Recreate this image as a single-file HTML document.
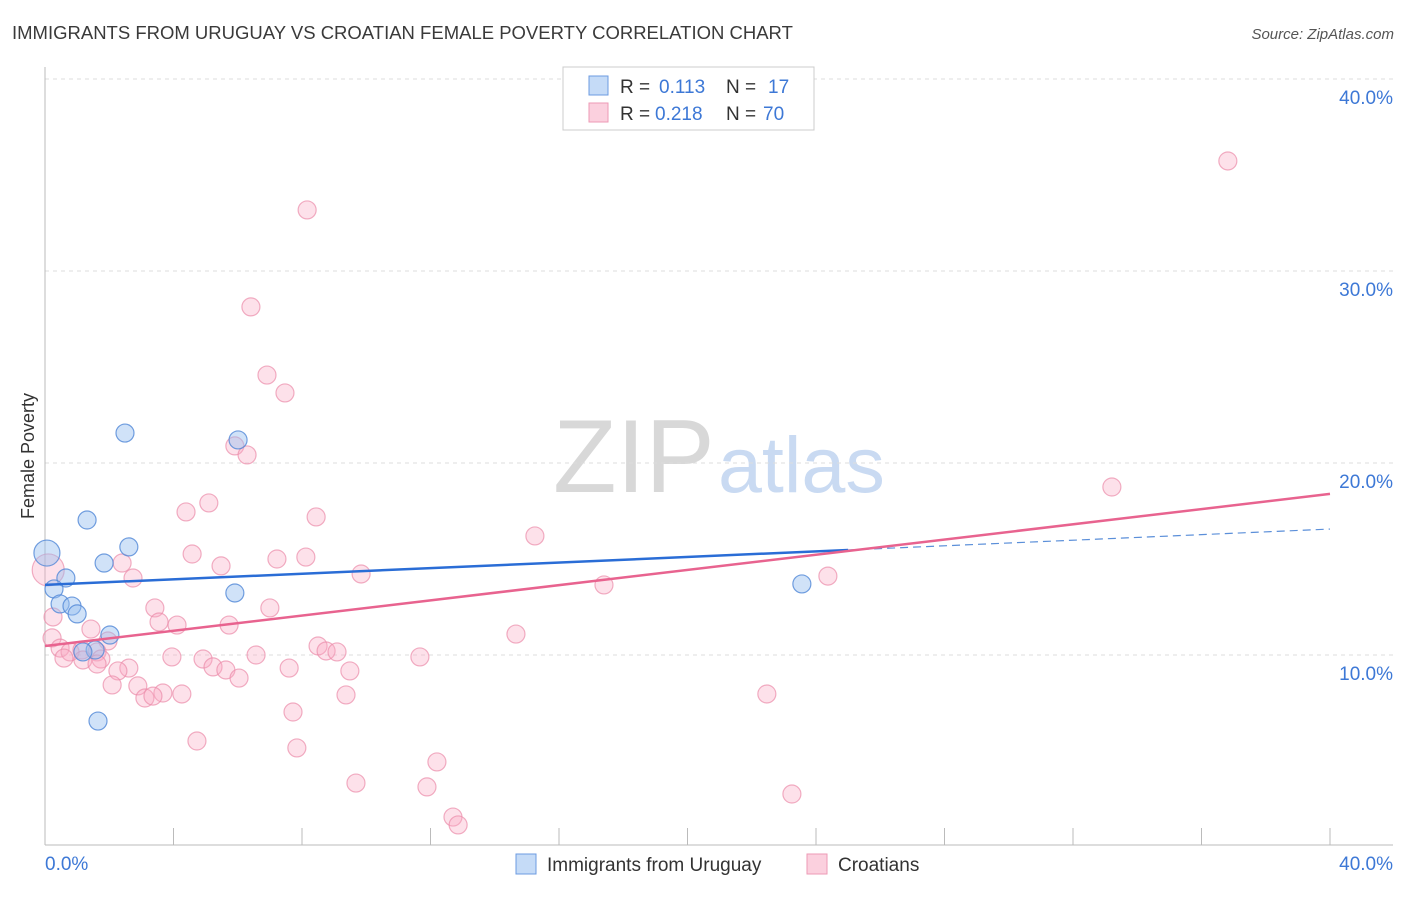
<!DOCTYPE html>
<html><head><meta charset="utf-8"><style>
body{margin:0;background:#fff;font-family:"Liberation Sans",sans-serif;}
svg text{font-family:"Liberation Sans",sans-serif;}
</style></head><body>
<svg id="chart" width="1406" height="892" viewBox="0 0 1406 892" xmlns="http://www.w3.org/2000/svg">
<text x="12" y="39" font-size="18.5" fill="#3a3a3a">IMMIGRANTS FROM URUGUAY VS CROATIAN FEMALE POVERTY CORRELATION CHART</text>
<text x="1394" y="39" font-size="15" fill="#555" text-anchor="end" font-style="italic">Source: ZipAtlas.com</text>
<g>
<text x="553" y="492" font-size="104" fill="#d8d8d8" font-family="Liberation Serif,serif">ZIP</text>
<text x="718" y="492" font-size="79" fill="#c9daf2">atlas</text>
</g>
<g id="grid"></g>
<g id="axes"></g>
<g id="marks"></g>
<text transform="translate(34,456) rotate(-90)" font-size="18" fill="#333" text-anchor="middle">Female Poverty</text>
<g>
<rect x="563" y="67" width="251" height="63" fill="#fff" stroke="#ccc"/>
<rect x="589" y="76" width="19" height="19" fill="rgba(150,190,240,0.55)" stroke="#6c9be0"/>
<text x="620" y="93" font-size="19" fill="#333">R = </text><text x="659" y="93" font-size="19" fill="#3d78d6">0.113</text>
<text x="726" y="93" font-size="19" fill="#333">N = </text><text x="768" y="93" font-size="19" fill="#3d78d6">17</text>
<rect x="589" y="103" width="19" height="19" fill="rgba(248,170,195,0.55)" stroke="#ee9ab5"/>
<text x="620" y="120" font-size="19" fill="#333">R = </text><text x="655" y="120" font-size="19" fill="#3d78d6">0.218</text>
<text x="726" y="120" font-size="19" fill="#333">N = </text><text x="763" y="120" font-size="19" fill="#3d78d6">70</text>
</g>
<g>
<rect x="516" y="854" width="20" height="20" fill="rgba(150,190,240,0.55)" stroke="#6c9be0"/>
<text x="547" y="871" font-size="19" fill="#333">Immigrants from Uruguay</text>
<rect x="807" y="854" width="20" height="20" fill="rgba(248,170,195,0.55)" stroke="#ee9ab5"/>
<text x="838" y="871" font-size="19" fill="#333">Croatians</text>
</g>
</svg>
<script>
const xTickLabels=["0.0%","40.0%"];
const yTicks=[10,20,30,40];
const yTickLabels=["10.0%","20.0%","30.0%","40.0%"];
const uruguayX=[0.06,0.65,0.28,0.47,0.84,1.0,2.02,1.56,1.18,1.65,2.49,6.01,1.31,1.84,2.61,5.91,23.56];
const uruguayY=[15.31,14.01,13.44,12.66,12.55,12.14,11.04,10.26,10.16,6.56,21.56,21.2,17.03,14.79,15.63,13.23,13.7];
const croatX=[8.16,36.82,6.41,6.91,7.47,5.91,6.29,5.1,4.39,8.44,15.25,33.21,4.58,7.22,8.12,5.48,2.4,2.74,9.84,24.37,17.4,3.42,7.0,3.55,4.11,5.73,1.43,14.66,8.5,8.75,9.09,1.96,0.22,0.47,0.78,1.15,1.62,1.18,1.74,0.59,1.62,3.95,4.92,6.57,11.67,5.23,5.63,2.61,2.27,7.6,9.49,6.04,2.09,2.89,3.67,4.26,3.11,3.36,9.37,22.47,7.72,4.73,7.84,9.68,12.2,11.89,12.7,12.86,23.25,0.25,0.1];
const croatY=[33.18,35.73,28.13,24.58,23.65,20.89,20.42,17.92,17.45,17.19,16.2,18.75,15.26,15.0,15.1,14.64,14.79,14.01,14.22,14.11,13.65,12.45,12.45,11.72,11.56,11.56,11.35,11.09,10.47,10.21,10.16,10.73,10.89,10.36,10.16,10.26,10.16,9.74,9.79,9.84,9.53,9.9,9.79,10.0,9.9,9.38,9.22,9.32,9.17,9.32,9.17,8.8,8.44,8.39,8.02,7.97,7.76,7.86,7.92,7.97,7.03,5.52,5.16,3.33,4.43,3.13,1.56,1.15,2.76,11.98,14.43];
const uruguayTrend=[13.65,15.47,16.56]; // at x=0, 25, 40
const croatTrend=[10.47,18.39]; // at x=0, 40

const NS="http://www.w3.org/2000/svg";
const X0=45,X1=1330,Y0=847,PPU=19.2;
function sx(v){return X0+(X1-X0)*v/40;}
function sy(v){return Y0-v*PPU;}
function mk(tag,attrs,parent){const e=document.createElementNS(NS,tag);for(const k in attrs)e.setAttribute(k,attrs[k]);parent.appendChild(e);return e;}
const grid=document.getElementById('grid'),axes=document.getElementById('axes'),marks=document.getElementById('marks');
yTicks.forEach((t,i)=>{
  const l=mk('line',{x1:X0,x2:1393,y1:sy(t),y2:sy(t),stroke:'#ddd','stroke-dasharray':'4,4'},grid);
  
  
  const tx=mk('text',{x:1393,y:sy(t)+25,'font-size':19,fill:'#3d78d6','text-anchor':'end'},axes);
  tx.textContent=yTickLabels[i];
  
  
});
const ax=mk('line',{x1:X0,x2:1393,y1:845,y2:845,stroke:'#bbb'},axes);


const ay=mk('line',{x1:X0,x2:X0,y1:67,y2:845,stroke:'#bbb'},axes);


for(let v=0;v<=40;v+=4){
  const t=mk('line',{x1:sx(v),x2:sx(v),y1:828,y2:845,stroke:'#bbb'},axes);
  
  
}
const xl0=mk('text',{x:45,y:870,'font-size':19,fill:'#3d78d6'},axes);xl0.textContent=xTickLabels[0];


const xl1=mk('text',{x:1393,y:870,'font-size':19,fill:'#3d78d6','text-anchor':'end'},axes);xl1.textContent=xTickLabels[1];



croatX.forEach((x,i)=>{
  const big=(i===croatX.length-1);
  const c=mk('circle',{cx:sx(x),cy:sy(croatY[i]),r:big?16:9,fill:'rgba(248,170,195,0.35)',stroke:'rgba(235,140,170,0.7)','stroke-width':1.2},marks);
  
  
});
uruguayX.forEach((x,i)=>{
  const c=mk('circle',{cx:sx(x),cy:sy(uruguayY[i]),r:i===0?13:9,fill:'rgba(150,190,240,0.45)',stroke:'rgba(80,135,215,0.8)','stroke-width':1.2},marks);
  
  
});
const bl=mk('line',{x1:sx(0),y1:sy(uruguayTrend[0]),x2:sx(25),y2:sy(uruguayTrend[1]),stroke:'#2a6dd6','stroke-width':2.5},marks);


const bd=mk('line',{x1:sx(25),y1:sy(uruguayTrend[1]),x2:sx(40),y2:sy(uruguayTrend[2]),stroke:'#5b8fd9','stroke-width':1.2,'stroke-dasharray':'8,5'},marks);


const pl=mk('line',{x1:sx(0),y1:sy(croatTrend[0]),x2:sx(40),y2:sy(croatTrend[1]),stroke:'#e8638f','stroke-width':2.5},marks);


</script>
</body></html>
